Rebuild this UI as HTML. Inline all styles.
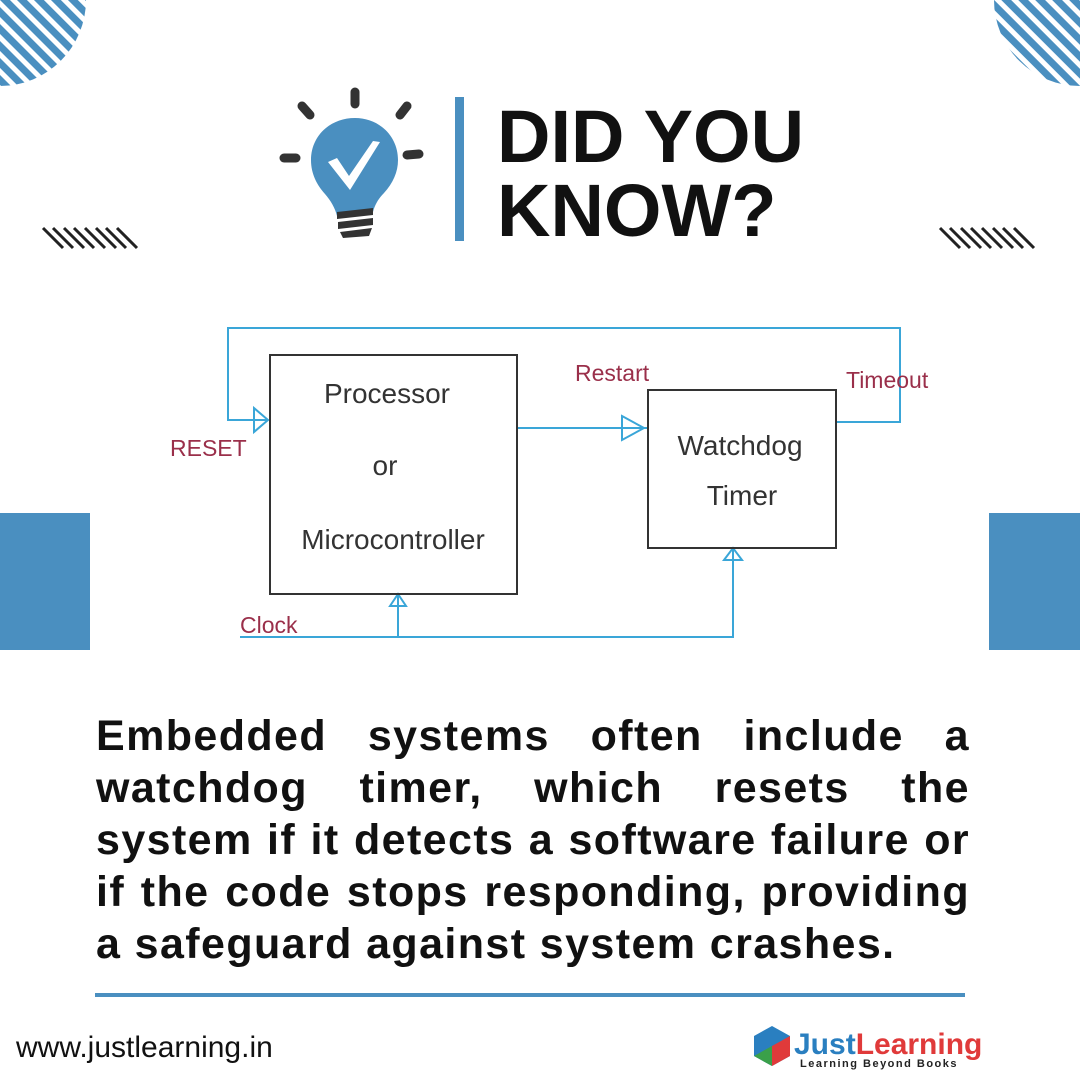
<!DOCTYPE html>
<html><head><meta charset="utf-8"><style>
body{margin:0;width:1080px;height:1080px;background:#fff;position:relative;overflow:hidden;font-family:"Liberation Sans",sans-serif}
.t{position:absolute;left:497px;font-weight:bold;font-size:74px;line-height:74px;color:#111}
.p{position:absolute;left:96px;width:874px;font-weight:bold;font-size:43px;letter-spacing:1.4px;color:#111}
.p div{height:52px;line-height:52px;text-align:justify;text-align-last:justify;white-space:nowrap}
.p div.l{text-align-last:left}
</style></head><body>
<svg width="1080" height="1080" style="position:absolute;left:0;top:0">
<defs>
<pattern id="st" width="12" height="12" patternUnits="userSpaceOnUse" patternTransform="rotate(-45)"><rect width="7" height="12" fill="#4a8fc0"/></pattern>
<clipPath id="c1"><circle cx="0" cy="0" r="86"/></clipPath>
<clipPath id="c2"><circle cx="1080" cy="0" r="86"/></clipPath>
</defs>
<rect x="0" y="0" width="90" height="90" fill="url(#st)" clip-path="url(#c1)"/>
<rect x="990" y="0" width="90" height="90" fill="url(#st)" clip-path="url(#c2)"/>
<g stroke="#222" stroke-width="3">
<path d="M43 228l20 20M53 228l20 20M64 228l20 20M74 228l20 20M85 228l20 20M96 228l20 20M106 228l20 20M117 228l20 20"/>
<path d="M940 228l20 20M950 228l20 20M961 228l20 20M971 228l20 20M982 228l20 20M993 228l20 20M1003 228l20 20M1014 228l20 20"/>
</g>
<rect x="0" y="513" width="90" height="137" fill="#4a8fc0"/>
<rect x="989" y="513" width="91" height="137" fill="#4a8fc0"/>
<g stroke="#333" stroke-width="9" stroke-linecap="round">
<line x1="355" y1="92" x2="355" y2="104"/><line x1="302" y1="106" x2="310" y2="115"/><line x1="400" y1="115" x2="407" y2="106"/>
<line x1="284" y1="158" x2="296" y2="158"/><line x1="407" y1="155" x2="419" y2="154"/>
</g>
<path d="M355 118c-25 0-44 18-44 42 0 14 6 25 14 34 6 7 10 14 12 22l36-4c2-8 6-14 11-19 9-10 14-21 14-33 0-24-19-42-43-42z" fill="#4a8fc0"/>
<path d="M328 162l9-4 12 18 24-35 7 1-30 48z" fill="#fff"/>
<g fill="#333"><path d="M337 212l36-4 0 7-36 4z"/><path d="M338 222l35-4 0 7-35 4z"/><path d="M340 232l32-4 -3 8-26 2z"/></g>
<rect x="455" y="97" width="9" height="144" fill="#4a8fc0"/>
<g fill="none" stroke="#3aa6d8" stroke-width="2">
<path d="M268 420H228V328H900V422H836"/>
<path d="M517 428H648"/>
<path d="M240 637H733V548M398 637V594"/>
<path d="M254 408l14 12-14 12z"/>
<path d="M622 416l22 12-22 12z"/>
<path d="M724 560l9-12 9 12z"/>
<path d="M390 606l8-12 8 12z"/>
</g>
<g fill="none" stroke="#333" stroke-width="2"><rect x="270" y="355" width="247" height="239"/><rect x="648" y="390" width="188" height="158"/></g>
<g font-family="Liberation Sans" font-size="28" fill="#333" text-anchor="middle">
<text x="387" y="403">Processor</text><text x="385" y="475">or</text><text x="393" y="549">Microcontroller</text>
<text x="740" y="455">Watchdog</text><text x="742" y="505">Timer</text>
</g>
<g font-family="Liberation Sans" font-size="23" fill="#9a2f4a">
<text x="170" y="456">RESET</text><text x="575" y="381">Restart</text><text x="846" y="388">Timeout</text><text x="240" y="633">Clock</text>
</g>
<rect x="95" y="993" width="870" height="4" fill="#4a8fc0"/>
<path d="M772 1026l18 10v20l-18 10-18-10v-20z" fill="#2a7fc0"/>
<path d="M772 1046l18-10v20l-18 10z" fill="#e03a3a"/>
<path d="M754 1056l18-10v20z" fill="#3aa04a"/>
<text x="794" y="1054" font-family="Liberation Sans" font-weight="bold" font-size="30" fill="#2a7fc0">Just<tspan fill="#e03a3a">Learning</tspan></text>
<text x="800" y="1067" font-family="Liberation Sans" font-weight="bold" font-size="11" fill="#222" letter-spacing="1.5">Learning Beyond Books</text>
<text x="16" y="1057" font-family="Liberation Sans" font-size="30" fill="#111">www.justlearning.in</text>
</svg>
<div class="t" style="top:100px">DID YOU</div>
<div class="t" style="top:174px">KNOW?</div>
<div class="p" style="top:710px">
<div>Embedded systems often include a</div>
<div>watchdog timer, which resets the</div>
<div>system if it detects a software failure or</div>
<div>if the code stops responding, providing</div>
<div class="l">a safeguard against system crashes.</div>
</div>
</body></html>
